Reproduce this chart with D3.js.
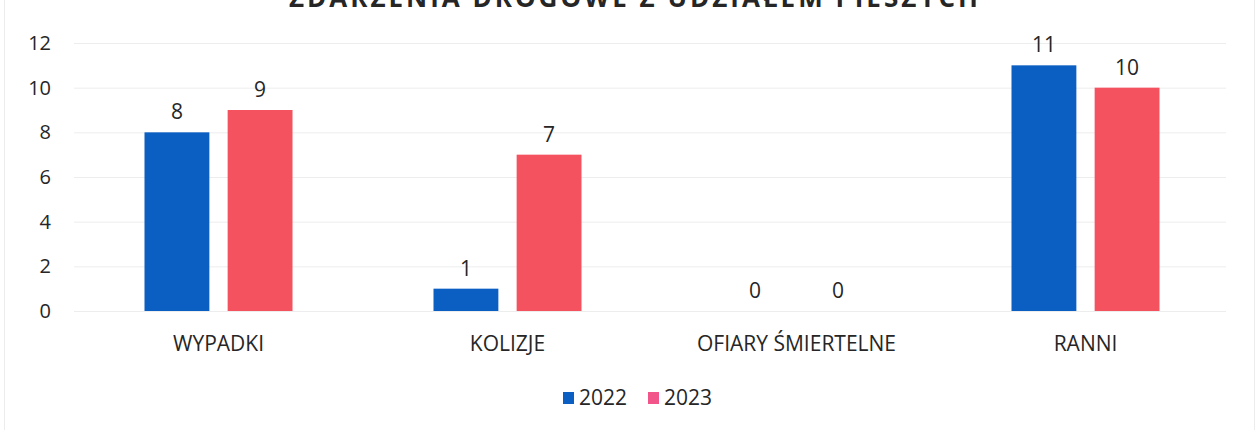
<!DOCTYPE html>
<html>
<head>
<meta charset="utf-8">
<script src="https://cdn.jsdelivr.net/npm/d3@7"></script>
<style>
  body { margin: 0; background: #fff; }
  text { font-family: "Open Sans", "Noto Sans", sans-serif; fill: #262626; }
</style>
</head>
<body>
<script>
var categories = ["WYPADKI", "KOLIZJE", "OFIARY ŚMIERTELNE", "RANNI"];
var years = ["2022", "2023"];
var values2022 = [8, 1, 0, 11];
var values2023 = [9, 7, 0, 10];
var yTicks = [0, 2, 4, 6, 8, 10, 12];
var title = "ZDARZENIA DROGOWE Z UDZIAŁEM PIESZYCH";

var width = 1258, height = 430;
var colors = ["#0b5ec2", "#f5525f"];

var svg = d3.select("body").append("svg")
    .attr("width", width)
    .attr("height", height);

// faint frame of the scanned chart
svg.append("rect")
    .attr("x", 4.5).attr("y", -2)
    .attr("width", 1250).attr("height", 434)
    .attr("fill", "none")
    .attr("stroke", "#ececec");

// title is cut off by the top edge, as in the scan
svg.append("text")
    .attr("x", 635).attr("y", 7)
    .attr("text-anchor", "middle")
    .attr("font-size", 26)
    .attr("font-weight", "bold")
    .attr("letter-spacing", 3)
    .text(title);

var x0 = d3.scaleBand()
    .domain(categories)
    .range([74, 1230]);

var x1 = d3.scaleBand()
    .domain(years)
    .range([-74, 74])
    .paddingInner(0.22);

var y = d3.scaleLinear()
    .domain([0, 12])
    .range([311, 43]);

// gridlines
svg.append("g")
    .selectAll("line")
    .data(yTicks)
    .enter().append("line")
    .attr("x1", 74).attr("x2", 1226)
    .attr("y1", function(d) { return y(d) + 0.5; })
    .attr("y2", function(d) { return y(d) + 0.5; })
    .attr("stroke", "#ededed")
    .attr("stroke-width", 1);

// y axis labels
var yAxis = d3.axisLeft(y).tickValues(yTicks).tickSize(0).tickPadding(0);
svg.append("g")
    .attr("transform", "translate(51,0)")
    .call(yAxis)
    .call(function(g) { g.select(".domain").remove(); })
    .selectAll("text")
    .attr("font-size", 20)
    .attr("font-family", "Open Sans, sans-serif")
    .attr("fill", "#262626");

// x axis labels
var xAxis = d3.axisBottom(x0).tickSize(0).tickPadding(0);
svg.append("g")
    .attr("transform", "translate(0,336)")
    .call(xAxis)
    .call(function(g) { g.select(".domain").remove(); })
    .selectAll("text")
    .attr("font-size", 21)
    .attr("font-family", "Open Sans, sans-serif")
    .attr("fill", "#262626");

var rows = categories.map(function(c, i) {
    return { cat: c, vals: [values2022[i], values2023[i]] };
});

var groups = svg.append("g")
    .selectAll("g")
    .data(rows)
    .enter().append("g")
    .attr("transform", function(d) { return "translate(" + (x0(d.cat) + x0.bandwidth() / 2) + ",0)"; });

var bars = groups.selectAll("g")
    .data(function(d) { return d.vals.map(function(v, j) { return { year: years[j], v: v, j: j }; }); })
    .enter().append("g");

bars.append("rect")
    .attr("x", function(d) { return x1(d.year); })
    .attr("width", x1.bandwidth())
    .attr("y", function(d) { return y(d.v); })
    .attr("height", function(d) { return y(0) - y(d.v); })
    .attr("fill", function(d) { return colors[d.j]; });

bars.append("text")
    .attr("x", function(d) { return x1(d.year) + x1.bandwidth() / 2; })
    .attr("y", function(d) { return y(d.v) - 13; })
    .attr("text-anchor", "middle")
    .attr("font-size", 21)
    .text(function(d) { return d.v; });

// legend
var legend = svg.append("g")
    .attr("transform", "translate(563,397)");

var items = legend.selectAll("g")
    .data(years)
    .enter().append("g")
    .attr("transform", function(d, i) { return "translate(" + (i * 85) + ",0)"; });

items.append("rect")
    .attr("x", 0).attr("y", -5)
    .attr("width", 11).attr("height", 12)
    .attr("fill", function(d, i) { return i ? "#f2558a" : colors[0]; });

items.append("text")
    .attr("x", 16).attr("y", 8)
    .attr("font-size", 21)
    .text(function(d) { return d; });
</script>
</body>
</html>
